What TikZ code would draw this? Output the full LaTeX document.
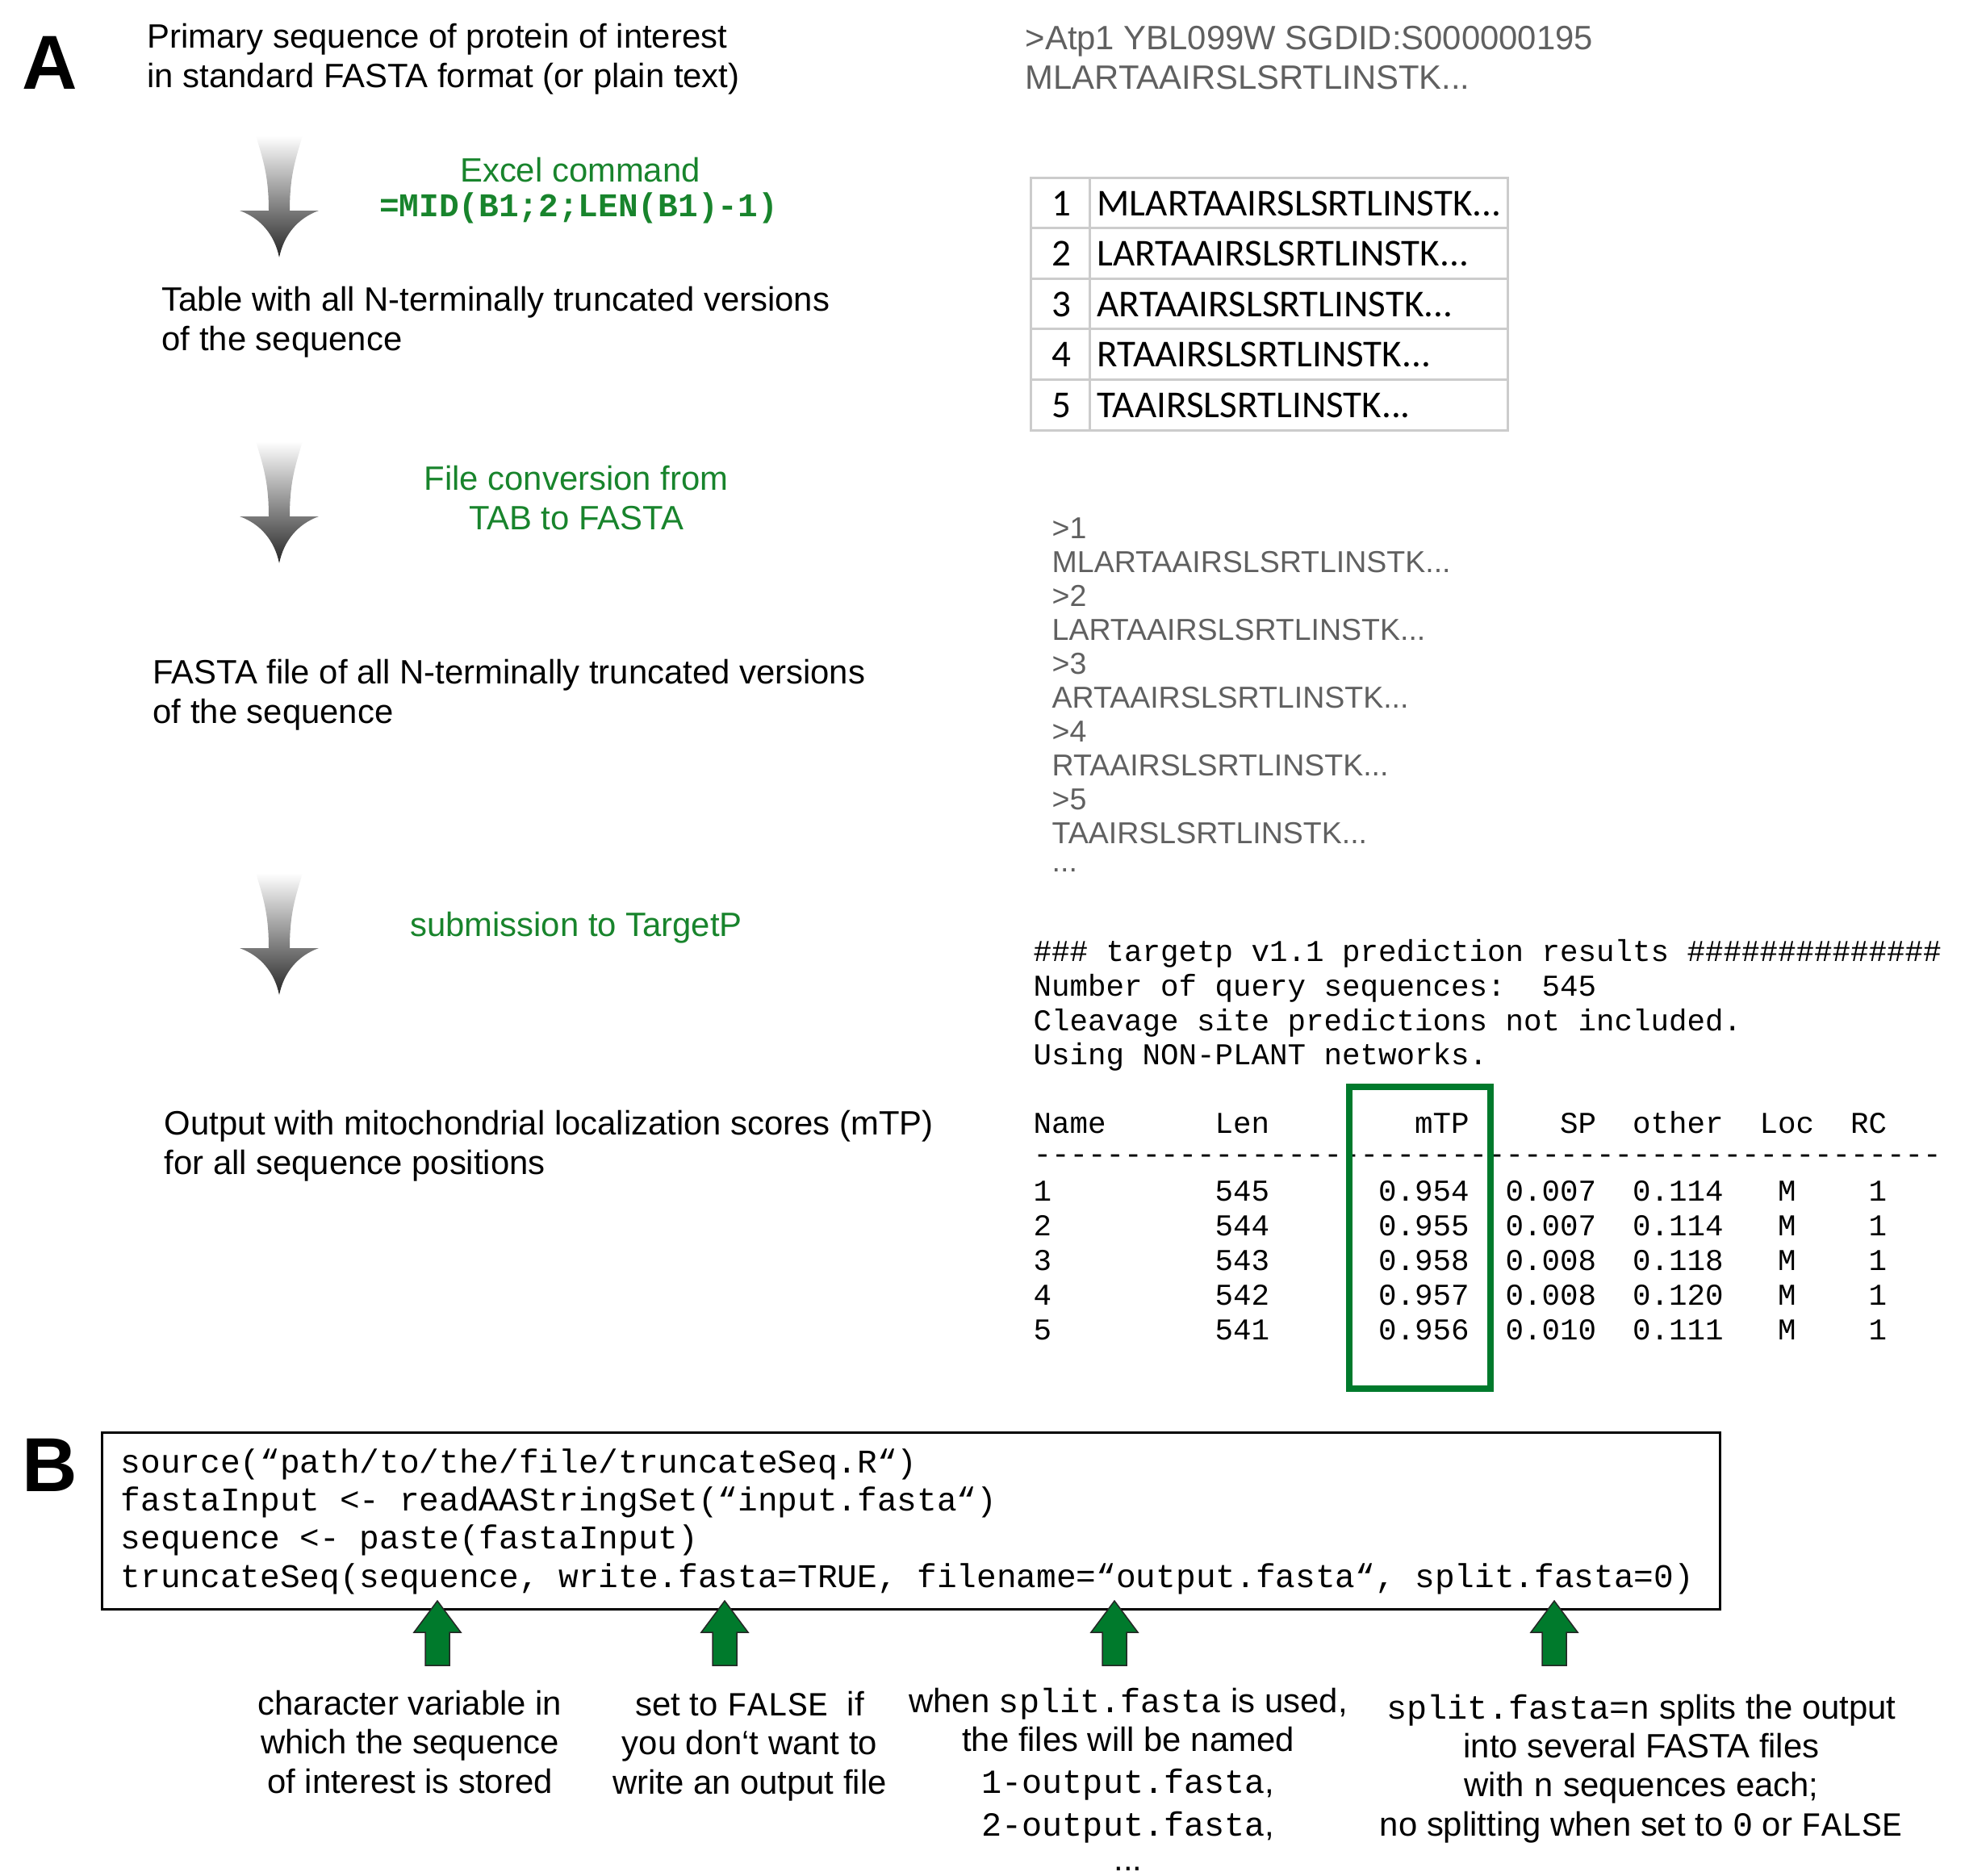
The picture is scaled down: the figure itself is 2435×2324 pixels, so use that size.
\documentclass[tikz,border=0pt]{standalone}
\usepackage{fontspec}
\setmainfont{Liberation Sans}
\setmonofont{Liberation Mono}
\newfontfamily\calibfont{Carlito}
\usetikzlibrary{positioning}
\definecolor{stepgreen}{RGB}{24,132,44}
\definecolor{boxgreen}{RGB}{0,122,44}
\definecolor{seqgray}{RGB}{96,96,96}
\frenchspacing

\begin{document}
\begin{tikzpicture}[x=0.1mm, y=-0.1mm,
  every node/.style={inner sep=0pt, font=\fontsize{11.9}{13.7}\selectfont},
  panel/.style={anchor=base west, font=\fontsize{27}{30}\selectfont\bfseries},
  desc/.style={anchor=base west, align=left},
  stepnote/.style={anchor=base, align=center, text=stepgreen},
  seqline/.style={anchor=base west, text=seqgray, font=\fontsize{10.67}{12}\selectfont},
  cell/.style={font=\calibfont\fontsize{13.4}{15}\selectfont},
  tp/.style={anchor=base west, font=\ttfamily\fontsize{10.67}{12.1}\selectfont},
  code/.style={anchor=base west, align=left, font=\ttfamily\fontsize{11.7}{13.4}\selectfont},
  notes/.style={anchor=base, align=center},
  grid/.style={draw=black!20, line width=0.3mm}]
\useasboundingbox (0,0) rectangle (2435,2324);

% panel A: steps on the left (base = last line)
\node[panel] (lblA) at (27,110) {A};
\node[desc] (primary) at (182,108) {Primary sequence of protein of interest\\in standard FASTA format (or plain text)};
\node[desc] (tabdesc) at (200,434) {Table with all N-terminally truncated versions\\of the sequence};
\node[desc] (fastadesc) at (189,896) {FASTA file of all N-terminally truncated versions\\of the sequence};
\node[desc] (outdesc) at (203,1455) {Output with mitochondrial localization scores (mTP)\\for all sequence positions};

\node[stepnote] (excel) at (719,225) {Excel command};
\node[stepnote, font=\ttfamily\bfseries\fontsize{11.7}{13.7}\selectfont] (midcmd) at (717,268) {=MID(B1;2;LEN(B1)-1)};
\node[stepnote] (conv) at (714,656) {File conversion from\\TAB to FASTA};
\node[stepnote] (submit) at (714,1160) {submission to TargetP};

% shaded down arrows
\foreach \ay in {168,547,1082}
  \shade[top color=white, bottom color=black!85]
    (317,\ay) .. controls (326,\ay+30) and (333,\ay+50) .. (333,\ay+93) -- (297,\ay+93)
    .. controls (322,\ay+102) and (340,\ay+122) .. (346,\ay+151)
    .. controls (352,\ay+122) and (370,\ay+102) .. (395,\ay+93) -- (359,\ay+93)
    .. controls (359,\ay+50) and (366,\ay+30) .. (375,\ay) -- cycle;

% input sequence
\node[anchor=base west, align=left, text=seqgray] (atp) at (1270,110) {>Atp1 YBL099W SGDID:S000000195\\MLARTAAIRSLSRTLINSTK...};

% excel table
\draw[grid] (1277,220) rectangle (1868,533);
\draw[grid] (1350,220) -- (1350,533);
\foreach \s [count=\k] in {MLARTAAIRSLSRTLINSTK, LARTAAIRSLSRTLINSTK,
    ARTAAIRSLSRTLINSTK, RTAAIRSLSRTLINSTK, TAAIRSLSRTLINSTK} {
  \ifnum\k>1 \draw[grid] (1277,{220+62.6*(\k-1)}) -- (1868,{220+62.6*(\k-1)}); \fi
  \node[cell, anchor=base] (num-\k) at (1315,{267+62.6*(\k-1)}) {\k};
  \node[cell, anchor=base west] (row-\k) at (1359,{267+62.6*(\k-1)}) {\s...};
}

% fasta file
\foreach \s [count=\k] in {MLARTAAIRSLSRTLINSTK, LARTAAIRSLSRTLINSTK,
    ARTAAIRSLSRTLINSTK, RTAAIRSLSRTLINSTK, TAAIRSLSRTLINSTK} {
  \node[seqline] (fhead-\k) at (1303,{667+84.2*(\k-1)}) {>\k};
  \node[seqline] (fseq-\k) at (1303,{709+84.2*(\k-1)}) {\s...};
}
\node[seqline] (fdots) at (1303,1080) {...};

% targetp output
\node[tp] (tptitle) at (1280,1191) {\#\#\# targetp v1.1 prediction results \#\#\#\#\#\#\#\#\#\#\#\#\#\#};
\node[tp] (tpnum) at (1280,1234) {Number of query sequences:\ \ 545};
\node[tp] (tpclv) at (1280,1277) {Cleavage site predictions not included.};
\node[tp] (tpnet) at (1280,1319) {Using NON-PLANT networks.};
\foreach \h/\c in {Name/0, Len/10, mTP/21, SP/29, other/33, Loc/40, RC/45}
  \node[tp] (hd-\h) at ({1280+22.5*\c},1404) {\h};
\node[tp] (tpdash) at (1280,1442) {--------------------------------------------------};
\foreach \nm/\len/\mtp/\spv/\oth [count=\r from 0] in {1/545/0.954/0.007/0.114,
    2/544/0.955/0.007/0.114, 3/543/0.958/0.008/0.118, 4/542/0.957/0.008/0.120,
    5/541/0.956/0.010/0.111} {
  \node[tp] (nm-\nm) at (1280,{1488+43*\r}) {\nm};
  \node[tp] (len-\nm) at ({1280+22.5*10},{1488+43*\r}) {\len};
  \node[tp] (mtp-\nm) at ({1280+22.5*19},{1488+43*\r}) {\mtp};
  \node[tp] (sp-\nm) at ({1280+22.5*26},{1488+43*\r}) {\spv};
  \node[tp] (oth-\nm) at ({1280+22.5*33},{1488+43*\r}) {\oth};
  \node[tp] (loc-\nm) at ({1280+22.5*41},{1488+43*\r}) {M};
  \node[tp] (rc-\nm) at ({1280+22.5*46},{1488+43*\r}) {1};
}
\node[draw=boxgreen, line width=0.8mm, minimum width=17.5mm, minimum height=37.4mm] (mtpbox) at (1759.5,1534) {};

% panel B: R code
\node[panel] (lblB) at (27,1848) {B};
\node[draw, line width=0.3mm, minimum width=200.5mm, minimum height=21.9mm] (codebox) at (1128.5,1884.5) {};
\node[code] (rcode) at (149,1967) {source(“path/to/the/file/truncateSeq.R“)\\
  fastaInput <- readAAStringSet(“input.fasta“)\\
  sequence <- paste(fastaInput)\\
  truncateSeq(sequence, write.fasta=TRUE, filename=“output.fasta“, split.fasta=0)};

% green pointers
\foreach \ux in {542,898,1381,1926}
  \filldraw[fill=boxgreen, draw=black!85, line width=0.15mm]
    (\ux,1984) -- (\ux+29,2023) -- (\ux+15,2023) -- (\ux+15,2064)
    -- (\ux-15,2064) -- (\ux-15,2023) -- (\ux-29,2023) -- cycle;

\node[notes] (noteseq) at (508,2222) {character variable in\\which the sequence\\of interest is stored};
\node[notes] (notewrite) at (929,2223) {set to \texttt{FALSE}\ \ if\\you don‘t want to\\write an output file};
\node[notes] (notename) at (1398,2275) {when \texttt{split.fasta} is used,\\the files will be named\\[1.2pt]
  \texttt{1-output.fasta},\\[1.2pt]\texttt{2-output.fasta},};
\node[notes] (namedots) at (1398,2318) {...};
\node[notes] (notesplit) at (2034,2275) {\texttt{split.fasta=n} splits the output\\into several FASTA files\\
  with \texttt{n} sequences each;\\no splitting when set to \texttt{0} or \texttt{FALSE}};
\end{tikzpicture}
\end{document}
